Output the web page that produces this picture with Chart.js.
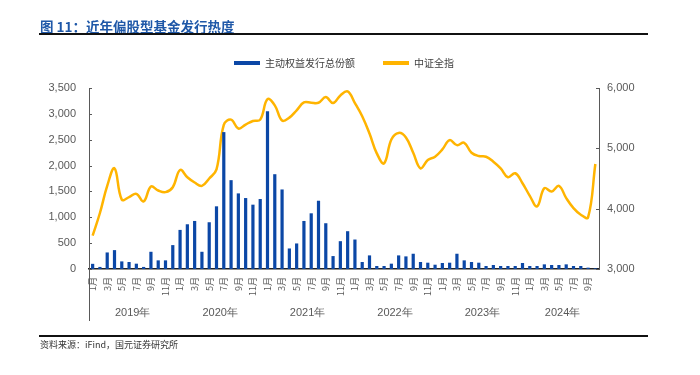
<!DOCTYPE html>
<html><head><meta charset="utf-8">
<script src="https://cdn.jsdelivr.net/npm/chart.js@4.4.1/dist/chart.umd.min.js"></script>
<style>
html,body{margin:0;padding:0;background:#fff;}
#wrap{position:relative;width:700px;height:375px;overflow:hidden;background:#fff;}
#c{position:absolute;left:0;top:0;}
.title{position:absolute;left:40px;top:16px;font:bold 13.5px "Noto Sans CJK SC";color:#1F58A8;line-height:20px;white-space:nowrap;}
.rule{position:absolute;left:39px;width:609px;background:#111;}
.src{position:absolute;left:40px;top:338px;font:9px "Noto Sans CJK SC";color:#333;line-height:13px;white-space:nowrap;}
</style></head>
<body><div id="wrap"><canvas id="c" width="700" height="375"></canvas>
<div class="title">图 11：近年偏股型基金发行热度</div>
<div class="rule" style="top:33px;height:2px"></div>
<div class="rule" style="top:335px;height:2px"></div>
<div class="src">资料来源：iFind，国元证券研究所</div></div>
<script>
// ---- data ----
const yearLabels = ['2019年','2020年','2021年','2022年','2023年','2024年'];
const monthsInYear = [12,12,12,12,12,10];
const monthLabels = ['1月','2月','3月','4月','5月','6月','7月','8月','9月','10月','11月','12月'];
const seriesBarName = '主动权益发行总份额';
const seriesLineName = '中证全指';
const issuance = [
  100, 40, 320, 365, 147, 135, 103, 40, 333, 167, 167, 462,
  756, 865, 929, 333, 904, 1212, 2647, 1718, 1462, 1372, 1244, 1353,
  3051, 1833, 1538, 397, 494, 929, 1077, 1320, 885, 250, 538, 731,
  570, 135, 263, 58, 58, 103, 263, 244, 295, 135, 122, 83,
  116, 122, 295, 167, 135, 122, 58, 77, 58, 58, 58, 116,
  58, 58, 90, 77, 77, 90, 58, 58, 26, 13
];
const csiAll = [
  3554, 3928, 4378, 4669, 4150, 4191, 4246, 4120, 4367, 4301, 4274, 4356,
  4641, 4521, 4433, 4378, 4500, 4650, 5390, 5476, 5328, 5394, 5454, 5476,
  5815, 5712, 5460, 5509, 5630, 5761, 5756, 5756, 5849, 5750, 5877, 5943,
  5750, 5531, 5245, 4916, 4751, 5147, 5256, 5180, 4927, 4669, 4806, 4861,
  4982, 5136, 5053, 5092, 4927, 4872, 4861, 4779, 4669, 4521, 4587, 4422,
  4213, 4037, 4339, 4284, 4378, 4175, 4010, 3900, 3856, 4740
];
const leftTicks = {min:0, max:3500, step:500};
const rightTicks = {min:3000, max:6000, step:1000};

// ---- categories ----
const categories = [];
yearLabels.forEach((y, yi) => {
  for (let m = 0; m < monthsInYear[yi]; m++) categories.push(monthLabels[m]);
});

const BAR = '#0B47A6', LINE = '#FFB400', TXT = '#595959', AX = '#595959';
const fmt = v => Number(v).toLocaleString('en-US');

const extras = {
  id: 'extras',
  beforeInit(chart) {
    const lg = chart.legend;
    if (lg) { const f = lg.fit; lg.fit = function(){ f.call(this); this.height += 10; }; }
  },
  afterDraw(chart) {
    const ctx = chart.ctx, a = chart.chartArea;
    const x = chart.scales.x, yl = chart.scales.y, yr = chart.scales.y1;
    ctx.save();
    ctx.strokeStyle = AX; ctx.lineWidth = 1;
    yl.ticks.forEach(t => { const py = Math.round(yl.getPixelForValue(t.value)) + 0.5; ctx.beginPath(); ctx.moveTo(a.left, py); ctx.lineTo(a.left + 3, py); ctx.stroke(); });
    yr.ticks.forEach(t => { const py = Math.round(yr.getPixelForValue(t.value)) + 0.5; ctx.beginPath(); ctx.moveTo(a.right, py); ctx.lineTo(a.right - 3, py); ctx.stroke(); });
    ctx.beginPath(); ctx.moveTo(a.left + 0.5, a.bottom); ctx.lineTo(a.left + 0.5, a.bottom + 52); ctx.stroke();
    ctx.fillStyle = TXT; ctx.font = '11px "Liberation Sans"'; ctx.textAlign = 'center'; ctx.textBaseline = 'middle';
    let start = 0;
    yearLabels.forEach((lbl, yi) => {
      const end = start + monthsInYear[yi] - 1;
      const cx = (x.getPixelForValue(start) + x.getPixelForValue(end)) / 2;
      ctx.fillText(lbl, cx, a.bottom + 44);
      start = end + 1;
    });
    ctx.restore();
  }
};

new Chart(document.getElementById('c'), {
  data: {
    labels: categories,
    datasets: [
      { type:'bar', label: seriesBarName, data: issuance, yAxisID:'y', backgroundColor: BAR, borderColor: BAR, borderWidth: 0, barPercentage: 0.44, categoryPercentage: 1.0 },
      { type:'line', label: seriesLineName, data: csiAll, yAxisID:'y1', borderColor: LINE, backgroundColor: LINE, borderWidth: 2.5, pointRadius: 0, tension: 0.4, fill: false }
    ]
  },
  options: {
    responsive: false, animation: false, devicePixelRatio: 1,
    layout: { padding: { left: 0, right: 12, top: 30, bottom: 0 } },
    plugins: {
      tooltip: { enabled: false },
      title: { display: false },
      legend: {
        display: true, position: 'top', align: 'center',
        labels: {
          boxWidth: 26, boxHeight: 4, padding: 28, color: '#404040',
          font: { family: '"Noto Sans CJK SC"', size: 10 },
          generateLabels(chart) {
            const items = Chart.defaults.plugins.legend.labels.generateLabels(chart);
            items.forEach(it => { it.lineWidth = 0; it.fillStyle = chart.data.datasets[it.datasetIndex].borderColor; it.strokeStyle = it.fillStyle; });
            return items;
          }
        }
      }
    },
    scales: {
      x: {
        type: 'category', offset: true,
        grid: { display: false, drawTicks: false },
        border: { display: true, color: '#222', width: 1.5 },
        ticks: { autoSkip: false, maxRotation: 90, minRotation: 90, padding: 8, color: TXT,
          font: { family: '"Noto Sans CJK SC"', size: 9 },
          callback: (v, i) => (i % 2 === 0 ? categories[i] : '') },
        afterFit: s => { s.height = 106; }
      },
      y: {
        position: 'left', min: leftTicks.min, max: leftTicks.max,
        grid: { display: false, drawTicks: false },
        border: { display: true, color: AX, width: 1 },
        ticks: { stepSize: leftTicks.step, padding: 13, color: TXT, font: { family: '"Liberation Sans"', size: 11 }, callback: v => fmt(v) },
        afterFit: s => { s.width = 89; }
      },
      y1: {
        position: 'right', min: rightTicks.min, max: rightTicks.max,
        grid: { display: false, drawTicks: false },
        border: { display: true, color: AX, width: 1 },
        ticks: { stepSize: rightTicks.step, padding: 8, color: TXT, font: { family: '"Liberation Sans"', size: 11 }, callback: v => fmt(v) },
        afterFit: s => { s.width = 89; }
      }
    }
  },
  plugins: [extras]
});
</script>
</body></html>
